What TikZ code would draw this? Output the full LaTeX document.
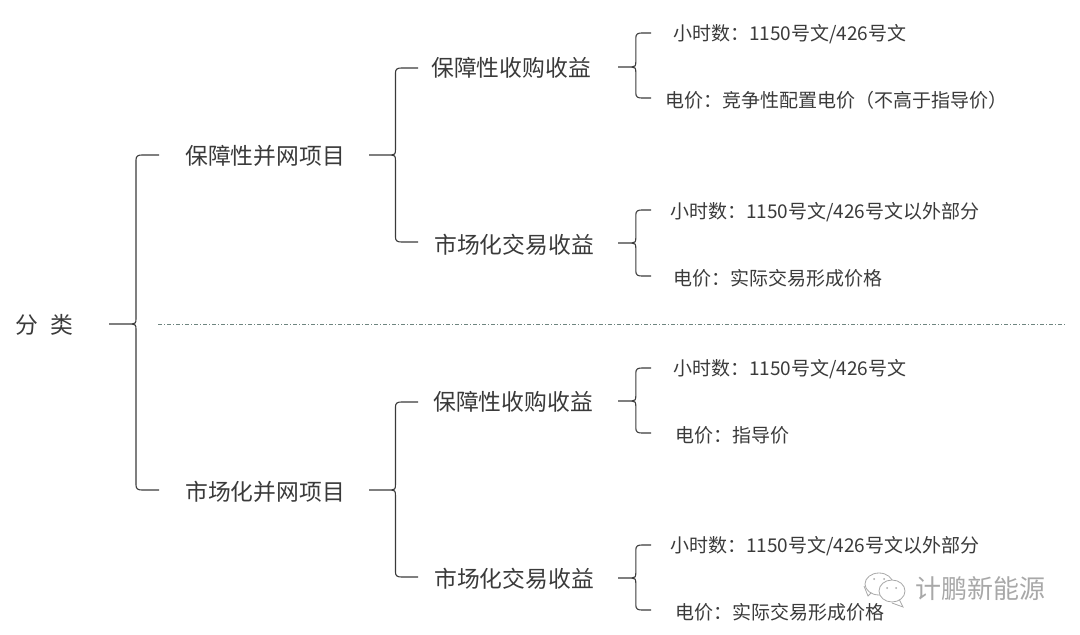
\documentclass[tikz,border=0pt]{standalone}
\usepackage{fontspec}
\setmainfont{Noto Sans CJK SC}
\usetikzlibrary{positioning, calc}
\definecolor{inkgray}{HTML}{3A3A3A}
\definecolor{markgray}{HTML}{A8A8A8}
\definecolor{rulegray}{HTML}{6F8580}
\newcommand{\curly}[3]{
    \draw[curly] let \p1=(#1), \p2=(#2), \p3=(#3), \n1={\x1+0.54*(\x2-\x1)} in
        (\p1) -- (\n1-4pt,\y1) .. controls (\n1-1pt,\y1) and (\n1,\y1+1pt) .. (\n1,\y1+5pt)
        -- (\n1,\y2-5pt) .. controls (\n1,\y2-1pt) and (\n1+2pt,\y2) .. (\n1+6pt,\y2) -- (\p2);
    \draw[curly] let \p1=(#1), \p2=(#2), \p3=(#3), \n1={\x1+0.54*(\x2-\x1)} in
        (\n1-4pt,\y1) .. controls (\n1-1pt,\y1) and (\n1,\y1-1pt) .. (\n1,\y1-5pt)
        -- (\n1,\y3+5pt) .. controls (\n1,\y3+1pt) and (\n1+2pt,\y3) .. (\n1+6pt,\y3) -- (\p3);
}
\begin{document}
\begin{tikzpicture}[
        x=1pt,
        y=-1pt,
        curly/.style={draw=inkgray, line width=1.1pt},
        big/.style={anchor=west, inner sep=0pt, text=inkgray, font=\fontsize{22.8}{26}\selectfont},
        small/.style={anchor=west, inner sep=0pt, text=inkgray, font=\fontsize{19}{22}\selectfont},
        bubble/.style={draw=markgray, line width=0.8pt, fill=white}
    ]
    \useasboundingbox (0,0) rectangle (1080,635);

    \node[big] (root) at (15,325) {分\hspace{13pt}类};
    \node[big] (prjA) at (185,156) {保障性并网项目};
    \node[big] (prjB) at (185,492) {市场化并网项目};

    \node[big] (incA) at (431,68) {保障性收购收益};
    \node[big] (incB) at (434,245) {市场化交易收益};
    \node[big] (incC) at (433,402) {保障性收购收益};
    \node[big] (incD) at (434,579) {市场化交易收益};

    \node[small] (hourA) at (673,34) {小时数：1150号文/426号文};
    \node[small] (costA) at (665,100) {电价：竞争性配置电价（不高于指导价）};
    \node[small] (hourB) at (670,212) {小时数：1150号文/426号文以外部分};
    \node[small] (costB) at (673,278) {电价：实际交易形成价格};
    \node[small] (hourC) at (673,369) {小时数：1150号文/426号文};
    \node[small] (costC) at (675,435) {电价：指导价};
    \node[small] (hourD) at (670,546) {小时数：1150号文/426号文以外部分};
    \node[small] (costD) at (675,612) {电价：实际交易形成价格};

    % brace ends
    \coordinate (t0) at (109,324);
    \coordinate (a0) at (159,155);
    \coordinate (b0) at (159,490);
    \coordinate (t1) at (369,155);
    \coordinate (a1) at (418,68);
    \coordinate (b1) at (418,242);
    \coordinate (t2) at (369,490);
    \coordinate (a2) at (418,402);
    \coordinate (b2) at (418,577);
    \coordinate (t3) at (618,67);
    \coordinate (a3) at (651,33);
    \coordinate (b3) at (651,98);
    \coordinate (t4) at (618,243);
    \coordinate (a4) at (651,210);
    \coordinate (b4) at (651,276);
    \coordinate (t5) at (618,401);
    \coordinate (a5) at (651,368);
    \coordinate (b5) at (651,433);
    \coordinate (t6) at (618,578);
    \coordinate (a6) at (651,545);
    \coordinate (b6) at (651,610);

    \foreach \i in {0,...,6} {
        \curly{t\i}{a\i}{b\i}
    }

    \coordinate (ruleL) at (158,324);
    \coordinate (ruleR) at (1065,324);
    \draw[rulegray, line width=0.7pt, dash pattern=on 4pt off 2pt on 1pt off 2pt] (ruleL) -- (ruleR);

    % watermark
    \node[anchor=west, inner sep=0pt, text=markgray, font=\fontsize{26}{30}\selectfont] (wmark) at (915,589) {计鹏新能源};
    \draw[bubble] (864,586) -- (868,596) -- (873,591);
    \draw[bubble] (879,584) ellipse (14 and 11);
    \draw[bubble] (899,599) -- (903,607) -- (892,603);
    \draw[bubble] (892,591) ellipse (13 and 11);
    \fill[markgray] (874,579) circle (1) (884,579) circle (1) (887,588) circle (1) (896,588) circle (1);
\end{tikzpicture}
\end{document}
